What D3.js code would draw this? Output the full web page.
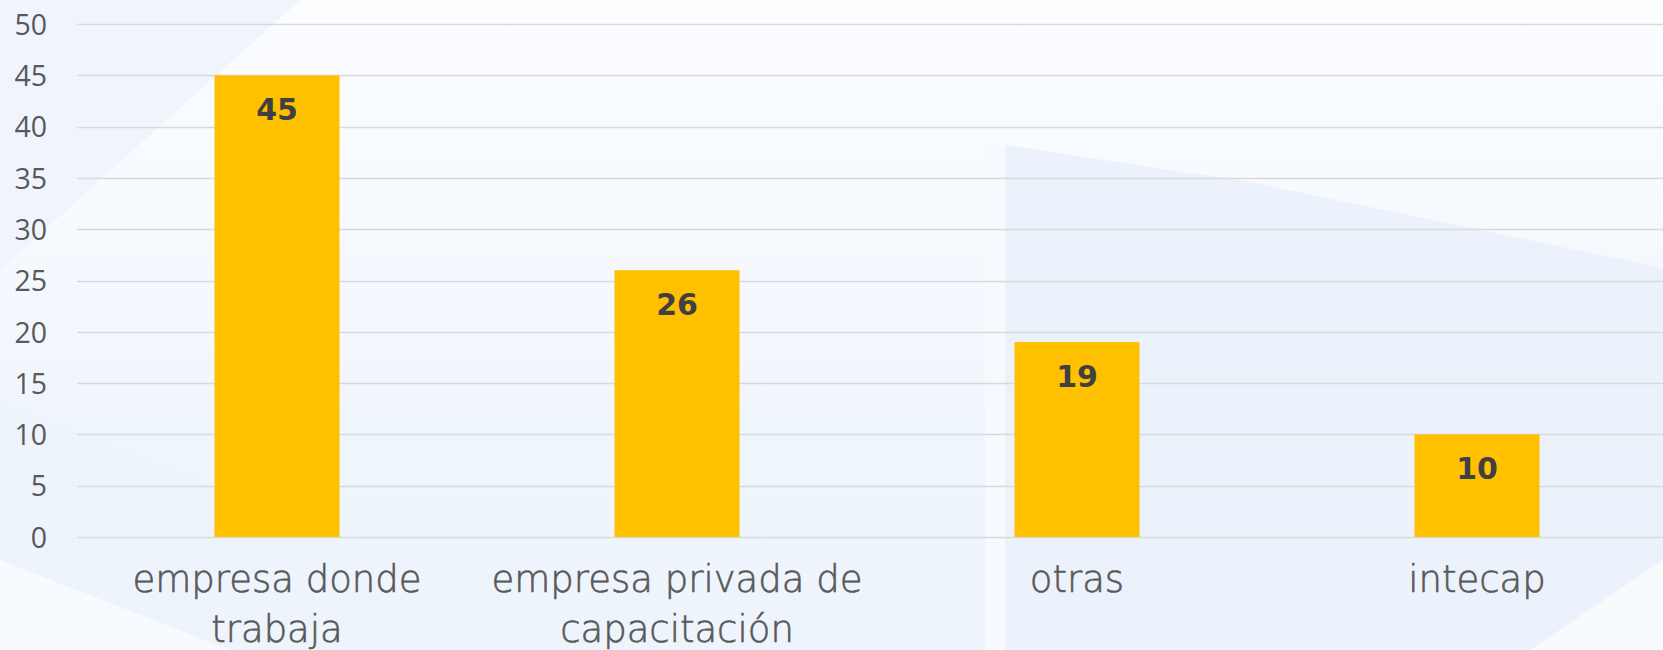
<!DOCTYPE html>
<html>
<head>
<meta charset="utf-8">
<script src="https://cdn.jsdelivr.net/npm/d3@7"></script>
<style>
  html, body { margin: 0; padding: 0; overflow: hidden; }
  #chart svg { display: block; }
</style>
</head>
<body>
<div id="chart"></div>
<script>
// chart data
const categories = ['empresa donde trabaja', 'empresa privada de capacitación', 'otras', 'intecap'];
const labelLines = [['empresa donde', 'trabaja'], ['empresa privada de', 'capacitación'], ['otras'], ['intecap']];
const values = [45, 26, 19, 10];
const yTicks = [0, 5, 10, 15, 20, 25, 30, 35, 40, 45, 50];

const width = 1663;
const height = 650;
const margin = { top: 24, right: -14, bottom: 113, left: 77 };

const svg = d3.select('#chart')
    .append('svg')
    .attr('width', width)
    .attr('height', height)
    .attr('viewBox', [0, 0, width, height]);

// soft slide background
const defs = svg.append('defs');
const grad = defs.append('linearGradient')
    .attr('id', 'bg-grad')
    .attr('x1', '0%').attr('x2', '0%')
    .attr('y1', '0%').attr('y2', '100%');
grad.append('stop').attr('offset', '0%').attr('stop-color', '#fbfdff');
grad.append('stop').attr('offset', '35%').attr('stop-color', '#f6f9fe');
grad.append('stop').attr('offset', '70%').attr('stop-color', '#eff5fd');
grad.append('stop').attr('offset', '100%').attr('stop-color', '#eef4fc');

const bg = svg.append('g');
bg.append('rect').attr('width', width).attr('height', height).attr('fill', 'url(#bg-grad)');
const shapes = [
    { pts: [[0, 0], [300, 0], [0, 270]], fill: '#f0f5fd' },
    { pts: [[0, 400], [620, 650], [0, 650]], fill: '#eef4fc' },
    { pts: [[0, 560], [230, 650], [0, 650]], fill: '#f7fafe' },
    { pts: [[985, 150], [1005, 145], [1005, 650], [985, 650]], fill: '#f6f9fe' },
    { pts: [[1005, 145], [1250, 182], [1663, 268], [1663, 650], [1005, 650]], fill: '#ecf2fc' },
    { pts: [[1530, 650], [1663, 560], [1663, 650]], fill: '#f8fbfe' }
];
bg.selectAll('polygon')
    .data(shapes)
    .join('polygon')
    .attr('points', d => d.pts.map(p => p.join(',')).join(' '))
    .attr('fill', d => d.fill);

const x = d3.scaleBand()
    .domain(categories)
    .range([margin.left, width - margin.right])
    .paddingInner(0.6875)
    .paddingOuter(0.34375);

const y = d3.scaleLinear()
    .domain([0, 50])
    .range([height - margin.bottom, margin.top]);

// gridlines
svg.append('g')
    .selectAll('line')
    .data(yTicks)
    .join('line')
    .attr('x1', margin.left)
    .attr('x2', width)
    .attr('y1', d => Math.round(y(d)) + 0.5)
    .attr('y2', d => Math.round(y(d)) + 0.5)
    .attr('stroke', '#d9d9d9')
    .attr('stroke-width', 1.4);

// y axis labels
const yAxis = d3.axisLeft(y).tickValues(yTicks).tickSize(0).tickPadding(0);
svg.append('g')
    .attr('transform', 'translate(47,0)')
    .call(yAxis)
    .call(g => g.select('.domain').remove())
    .selectAll('text')
    .attr('fill', '#595959')
    .attr('dy', '0.36em')
    .style('font-family', '"Open Sans", "Noto Sans", sans-serif')
    .style('font-size', '28.5px');

// bars
svg.append('g')
    .selectAll('rect')
    .data(values)
    .join('rect')
    .attr('x', (d, i) => x(categories[i]))
    .attr('y', d => y(d))
    .attr('width', x.bandwidth())
    .attr('height', d => y(0) - y(d))
    .attr('fill', '#ffc000');

// value labels
svg.append('g')
    .selectAll('text')
    .data(values)
    .join('text')
    .attr('x', (d, i) => x(categories[i]) + x.bandwidth() / 2)
    .attr('y', d => y(d) + 45)
    .attr('text-anchor', 'middle')
    .attr('fill', '#404040')
    .style('font-family', '"DejaVu Sans", sans-serif')
    .style('font-weight', 'bold')
    .style('font-size', '30px')
    .text(d => d);

// category labels
const cat = svg.append('g')
    .selectAll('text')
    .data(labelLines)
    .join('text')
    .attr('x', (d, i) => x(categories[i]) + x.bandwidth() / 2)
    .attr('y', 592)
    .attr('text-anchor', 'middle')
    .attr('fill', '#595959')
    .attr('stroke', '#595959')
    .attr('stroke-width', 0.6)
    .style('font-family', '"DejaVu Sans", sans-serif')
    .style('font-weight', '300')
    .style('font-size', '37px');

cat.selectAll('tspan')
    .data(d => d)
    .join('tspan')
    .attr('x', function() { return this.parentNode.getAttribute('x'); })
    .attr('dy', (d, i) => i === 0 ? 0 : 50)
    .text(d => d);
</script>
</body>
</html>
